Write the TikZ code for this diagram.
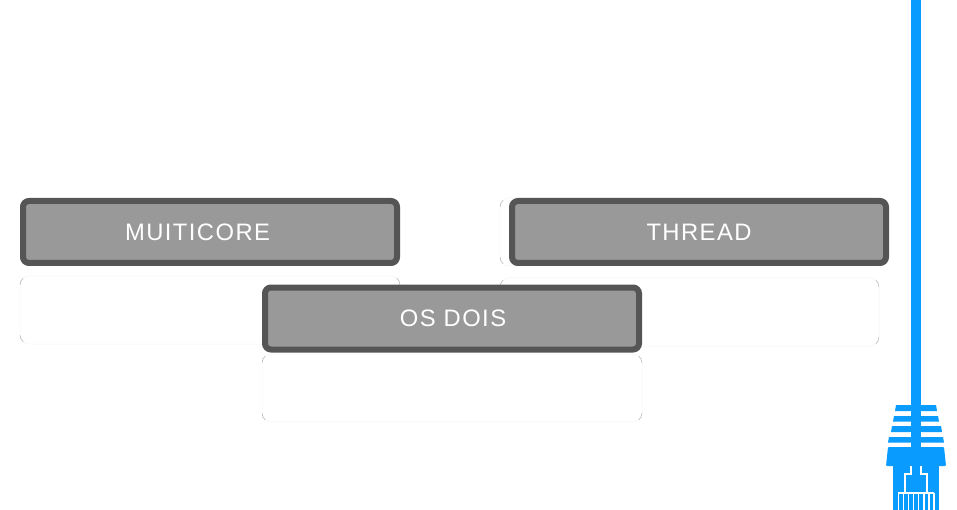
\documentclass[tikz,border=0pt]{standalone}
\usepackage{fontspec}
\setmainfont{Liberation Sans}
\definecolor{boxedge}{HTML}{555555}
\definecolor{boxfill}{HTML}{999999}
\definecolor{plugblue}{HTML}{0A9BFF}
\tikzset{
  titlebox/.style={draw=boxedge, fill=boxfill, line width=6pt, rounded corners=6pt, minimum width=374pt, minimum height=62pt, inner sep=0pt, text=white, font=\fontsize{23.8}{24}\selectfont\addfontfeatures{LetterSpace=6}},
  emptybox/.style={draw=black!4, line width=0.5pt, rounded corners=9pt, fill=white},
  emptycorner/.style={draw=black!30, line width=0.5pt},
  plugpart/.style={fill=plugblue, draw=none},
  plugcut/.style={draw=white, line width=1.5pt}
}
\newcommand{\emptypanel}[4]{%
  \draw[emptybox] (#1, #2) rectangle (#3, #4);
  \draw[emptycorner] (#1, #4 - 9) arc[start angle=180, end angle=130, radius=9pt, y radius=-9pt];
  \draw[emptycorner] (#3, #4 - 9) arc[start angle=0, end angle=50, radius=9pt, y radius=-9pt];
  \draw[emptycorner] (#1, #2 + 9) arc[start angle=180, end angle=230, radius=9pt, y radius=-9pt];
  \draw[emptycorner] (#3, #2 + 9) arc[start angle=0, end angle=-50, radius=9pt, y radius=-9pt];
}
\begin{document}
\begin{tikzpicture}[x=1pt, y=-1pt]
  \useasboundingbox (0, 0) rectangle (957, 510);

  % empty boxes
  \emptypanel{20}{276}{400}{344}
  \emptypanel{500}{198}{879}{266}
  \emptypanel{500}{278}{879}{346}
  \emptypanel{262}{354}{642}{422}

  % titles
  \node[titlebox] (muiticore) at (210, 232) {\hspace*{-25pt}\raisebox{-0.5pt}{MUITICORE}};
  \node[titlebox] (thread) at (699, 232) {\raisebox{-0.5pt}{THREAD}};
  \node[titlebox] (osdois) at (452, 318.5) {\hspace*{2pt}OS DOIS};

  % cable
  \fill[plugpart] (911, 0) rectangle (921, 447);
  \foreach \y/\l/\r/\h in {405/896/936/6, 416/894/938/5.5, 426/892/941/6, 437/889/943/5.5}
    \fill[plugpart] (\l, \y) -- (\r, \y) -- (\r + 1, \y + \h) -- (\l - 1, \y + \h) -- cycle;
  \fill[plugpart, rounded corners=1pt] (888, 447) -- (944, 447) -- (946, 466) -- (886, 466) -- cycle;
  \fill[plugpart] (893, 466) rectangle (939, 510);

  % contacts
  \draw[plugcut] (911, 466) -- (911, 474) -- (905, 474) -- (905, 493);
  \draw[plugcut] (921, 466) -- (921, 474) -- (927, 474) -- (927, 493);
  \draw[plugcut] (898, 493) -- (934, 493);
  \foreach \x in {0, ..., 7}
    \draw[plugcut] (898.3 + \x * 5.1, 493) -- (898.3 + \x * 5.1, 510);
\end{tikzpicture}
\end{document}
